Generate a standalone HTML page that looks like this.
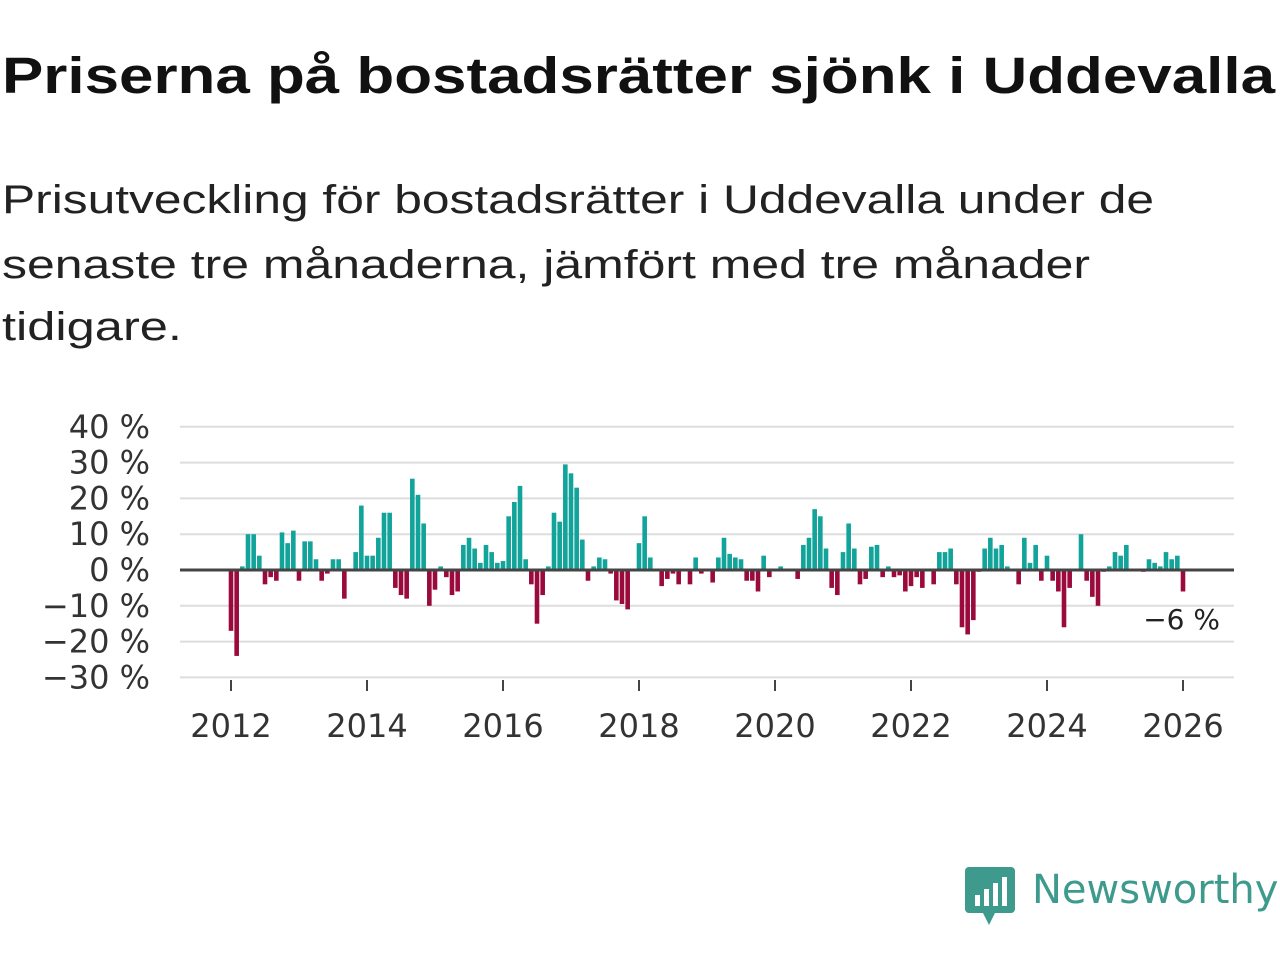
<!DOCTYPE html>
<html><head><meta charset="utf-8"><style>
body{margin:0;width:1280px;height:960px;background:#fff;font-family:"DejaVu Sans","Liberation Sans",sans-serif;overflow:hidden}
.fit{position:absolute;left:2px;white-space:nowrap;transform-origin:0 0;display:inline-block}
#title{top:46px;font-size:51px;font-weight:bold;color:#111;font-family:"Liberation Sans",sans-serif}
.sl{font-size:40px;color:#222;font-family:"Liberation Sans",sans-serif}
svg{position:absolute;left:0;top:0}
</style></head><body>
<div id="title" class="fit" data-w="1273">Priserna på bostadsrätter sjönk i Uddevalla</div>
<div>
<div class="fit sl" style="top:178px" data-w="1152">Prisutveckling för bostadsrätter i Uddevalla under de</div>
<div class="fit sl" style="top:243px" data-w="1088">senaste tre månaderna, jämfört med tre månader</div>
<div class="fit sl" style="top:305px" data-w="180">tidigare.</div>
</div>
<svg id="chart" width="1280" height="960"></svg>
<script>
const yTicks=[40,30,20,10,0,-10,-20,-30];
const xYears=[2012,2014,2016,2018,2020,2022,2024,2026];
const values=[-17,-24,1,10,10,4,-4,-2,-3,10.5,7.5,11,-3,8,8,3,-3,-1,3,3,-8,0,5,18,4,4,9,16,16,-5,-7,-8,25.5,21,13,-10,-5.5,1,-2,-7,-6,7,9,6,2,7,5,2,2.5,15,19,23.5,3,-4,-15,-7,1,16,13.5,29.5,27,23,8.5,-3,1,3.5,3,-1,-8.5,-9.5,-11,0,7.5,15,3.5,0,-4.5,-2.5,-1,-4,0,-4,3.5,-1,0,-3.5,3.5,9,4.5,3.5,3,-3,-3,-6,4,-2,0,1,0,0,-2.5,7,9,17,15,6,-5,-7,5,13,6,-4,-2.5,6.5,7,-2,1,-2,-1.5,-6,-4.5,-2,-5,0,-4,5,5,6,-4,-16,-18,-14,-0.5,6,9,6,7,1,0,-4,9,2,7,-3,4,-3,-6,-16,-5,0,10,-3,-7.5,-10,-0.5,1,5,4,7,0,0,-0.5,3,2,1,5,3,4,-6];
const startYear=2012, lastLabel="−6 %";
document.querySelectorAll('.fit').forEach(e=>{const w=e.getBoundingClientRect().width;e.style.transform='scaleX('+(+e.dataset.w/w)+')';});
const NS="http://www.w3.org/2000/svg";
const svg=document.getElementById('chart');
const y=v=>570-v*3.58;
const x=t=>231+(t-startYear)*68;
function mk(tag,attrs,parent){const e=document.createElementNS(NS,tag);for(const k in attrs)e.setAttribute(k,attrs[k]);(parent||svg).appendChild(e);return e;}
yTicks.forEach(t=>{
  const l=mk('line',{x1:180,x2:1234,y1:y(t),y2:y(t),stroke:'#ddd','stroke-width':2});
  
  
  const tx=mk('text',{x:150,y:y(t)+11,'text-anchor':'end','font-size':32,fill:'#333'});
  tx.textContent=(t<0?'−'+(-t):t)+' %';
  
  
});
xYears.forEach(yr=>{
  const l=mk('line',{x1:x(yr),x2:x(yr),y1:680,y2:691,stroke:'#444','stroke-width':2});
  
  
  const tx=mk('text',{x:x(yr),y:737,'text-anchor':'middle','font-size':32,fill:'#333'});
  tx.textContent=yr;
  
  
});
values.forEach((v,i)=>{
  const cx=x(startYear+i/12);
  const r=mk('rect',{x:cx-2.3,width:4.6,y:Math.min(y(v),y(0)),height:Math.abs(y(v)-y(0)),fill:v>=0?'#12a39a':'#9b0a3c'});
  
  
});
const z=mk('line',{x1:180,x2:1234,y1:y(0),y2:y(0),stroke:'#444','stroke-width':3});


const ann=mk('text',{x:1220,y:629,'text-anchor':'end','font-size':28,fill:'#222'});
ann.textContent=lastLabel;


</script>
<svg width="1280" height="960" style="pointer-events:none">
<path d="M969 867 h42 a4 4 0 0 1 4 4 v38 a4 4 0 0 1 -4 4 h-16 l-6 12 l-6 -12 h-14 a4 4 0 0 1 -4 -4 v-38 a4 4 0 0 1 4 -4z" fill="#3d9a8c"/>
<rect x="975" y="895" width="5" height="11" fill="#fff"/><rect x="984" y="889" width="5" height="17" fill="#fff"/><rect x="993" y="883" width="5" height="23" fill="#fff"/><rect x="1002" y="877" width="5" height="29" fill="#fff"/>
<text x="1032" y="903" font-size="40" fill="#3d9a8c">Newsworthy</text>
</svg>
</body></html>
